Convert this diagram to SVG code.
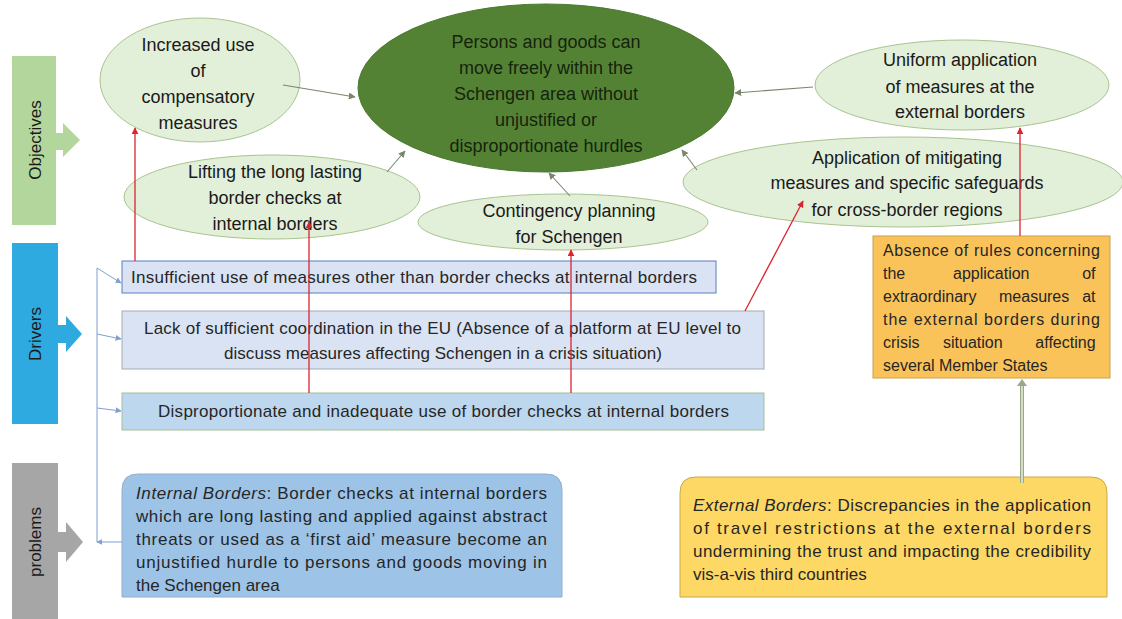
<svg xmlns="http://www.w3.org/2000/svg" width="1122" height="619" viewBox="0 0 1122 619">
<defs>
<style>
text{font-family:"Liberation Sans",Arial,sans-serif;fill:#1a1a1a}
.ell{fill:#e2efd9;stroke:#a9c48f;stroke-width:1}
.et{font-size:18px;text-anchor:middle}
.bt{font-size:16px;fill:#262626}
.pt{font-size:17px;fill:#262626}
.dt{font-size:17px;fill:#262626}
.red{stroke:#d9262f;stroke-width:1.3;fill:none;marker-end:url(#ra)}
.gr{stroke:#78876c;stroke-width:1.1;fill:none;marker-end:url(#ga)}
.bl{stroke:#7f9fcf;stroke-width:1;fill:none}
.bla{stroke:#7f9fcf;stroke-width:1;fill:none;marker-end:url(#ba)}
</style>
<marker id="ra" viewBox="0 0 10 10" refX="9" refY="5" markerWidth="7" markerHeight="7" orient="auto" markerUnits="userSpaceOnUse"><path d="M0,0 L10,5 L0,10 z" fill="#d9262f"/></marker>
<marker id="ga" viewBox="0 0 10 10" refX="9" refY="5" markerWidth="7" markerHeight="7" orient="auto" markerUnits="userSpaceOnUse"><path d="M0,0 L10,5 L0,10 z" fill="#78876c"/></marker>
<marker id="ba" viewBox="0 0 10 10" refX="9" refY="5" markerWidth="6" markerHeight="6" orient="auto" markerUnits="userSpaceOnUse"><path d="M0,0 L10,5 L0,10 z" fill="#7f9fcf"/></marker>
</defs>
<rect width="1122" height="619" fill="#ffffff"/>

<g id="label-objectives">
<rect x="12" y="56" width="44" height="169" fill="#b3d69c"/>
<polygon points="56,133 63,133 63,123 80,140 63,157 63,150 56,150" fill="#b3d69c"/>
<text transform="translate(41,140) rotate(-90)" text-anchor="middle" font-size="17" fill="#333">Objectives</text>
</g>
<g id="label-drivers">
<rect x="12" y="243" width="46" height="181" fill="#2eaae0"/>
<polygon points="58,325 66,325 66,316 82,334 66,352 66,343 58,343" fill="#2eaae0"/>
<text transform="translate(41,334) rotate(-90)" text-anchor="middle" font-size="17" fill="#1f3864">Drivers</text>
</g>
<g id="label-problems">
<rect x="12" y="463" width="46" height="156" fill="#a6a6a6"/>
<polygon points="58,532 66,532 66,522 83,542 66,562 66,552 58,552" fill="#a6a6a6"/>
<text transform="translate(41,542) rotate(-90)" text-anchor="middle" font-size="17" fill="#262626">problems</text>
</g>

<g id="node-central">
<ellipse cx="546" cy="88" rx="188" ry="84" fill="#548235" stroke="#4a7a2e"/>
<text class="et" style="fill:#14240c"><tspan x="546" y="48">Persons and goods can</tspan><tspan x="546" y="74">move freely within the</tspan><tspan x="546" y="100">Schengen area without</tspan><tspan x="546" y="126">unjustified or</tspan><tspan x="546" y="152">disproportionate hurdles</tspan></text>
</g>
<g id="node-increased">
<ellipse class="ell" cx="200" cy="80" rx="100" ry="62"/>
<text class="et"><tspan x="198" y="51">Increased use</tspan><tspan x="198" y="77">of</tspan><tspan x="198" y="103">compensatory</tspan><tspan x="198" y="129">measures</tspan></text>
</g>
<g id="node-lifting">
<ellipse class="ell" cx="272" cy="197" rx="148" ry="42"/>
<text class="et"><tspan x="275" y="178">Lifting the long lasting</tspan><tspan x="275" y="204">border checks at</tspan><tspan x="275" y="230">internal borders</tspan></text>
</g>
<g id="node-contingency">
<ellipse class="ell" cx="563" cy="222" rx="145" ry="28"/>
<text class="et"><tspan x="569" y="217">Contingency planning</tspan><tspan x="569" y="243">for Schengen</tspan></text>
</g>
<g id="node-uniform">
<ellipse class="ell" cx="962" cy="85" rx="147" ry="45"/>
<text class="et"><tspan x="960" y="66">Uniform application</tspan><tspan x="960" y="93">of measures at the</tspan><tspan x="960" y="118">external borders</tspan></text>
</g>
<g id="node-application">
<ellipse class="ell" cx="903" cy="182" rx="220" ry="45"/>
<text class="et"><tspan x="907" y="164">Application of mitigating</tspan><tspan x="907" y="189">measures and specific safeguards</tspan><tspan x="907" y="216">for cross-border regions</tspan></text>
</g>

<g id="node-driver1">
<rect x="122" y="261" width="594" height="32" fill="#dae3f3" stroke="#5b7fbf"/>
<text class="dt" x="131" y="283" textLength="566" lengthAdjust="spacing">Insufficient use of measures other than border checks at internal borders</text>
</g>
<g id="node-driver2">
<rect x="122" y="311" width="642" height="58" fill="#dae3f3" stroke="#a3abb3"/>
<text class="dt"><tspan x="144" y="334" textLength="597" lengthAdjust="spacing">Lack of sufficient coordination in the EU (Absence of a platform at EU level to</tspan><tspan x="224" y="359" textLength="438" lengthAdjust="spacing">discuss measures affecting Schengen in a crisis situation)</tspan></text>
</g>
<g id="node-driver3">
<rect x="122" y="393" width="642" height="37" fill="#bdd7ee" stroke="#a3bf97"/>
<text class="dt" x="158" y="417" textLength="571" lengthAdjust="spacing">Disproportionate and inadequate use of border checks at internal borders</text>
</g>
<g id="node-driver-external">
<rect x="873" y="236" width="237" height="142" fill="#fac35a" stroke="#c9a04e"/>
<text class="bt">
<tspan x="883" y="256" textLength="217" lengthAdjust="spacing">Absence of rules concerning</tspan>
<tspan x="883" y="279">the</tspan><tspan x="953" y="279">application</tspan><tspan x="1100" y="279" text-anchor="end">of</tspan>
<tspan x="883" y="302">extraordinary</tspan><tspan x="999" y="302">measures</tspan><tspan x="1100" y="302" text-anchor="end">at</tspan>
<tspan x="883" y="325" textLength="217" lengthAdjust="spacing">the external borders during</tspan>
<tspan x="883" y="348">crisis</tspan><tspan x="943" y="348">situation</tspan><tspan x="1100" y="348" text-anchor="end">affecting</tspan>
<tspan x="883" y="371">several Member States</tspan>
</text>
</g>

<g id="node-problem-internal">
<path d="M122,597 L122,490 Q122,474 138,474 L546,474 Q562,474 562,490 L562,597 Z" fill="#9dc3e6" stroke="#8fb0d0"/>
<text class="pt">
<tspan x="136" y="499" textLength="411" lengthAdjust="spacing"><tspan font-style="italic">Internal Borders</tspan>: Border checks at internal borders</tspan>
<tspan x="136" y="522" textLength="411" lengthAdjust="spacing">which are long lasting and applied against abstract</tspan>
<tspan x="136" y="545" textLength="411" lengthAdjust="spacing">threats or used as a ‘first aid’ measure become an</tspan>
<tspan x="136" y="568" textLength="411" lengthAdjust="spacing">unjustified hurdle to persons and goods moving in</tspan>
<tspan x="136" y="591">the Schengen area</tspan>
</text>
</g>
<g id="node-problem-external">
<path d="M680,597 L680,493 Q680,477 696,477 L1091,477 Q1107,477 1107,493 L1107,597 Z" fill="#fdd865" stroke="#c8a947"/>
<text class="pt">
<tspan x="693" y="511" textLength="398" lengthAdjust="spacing"><tspan font-style="italic">External Borders</tspan>: Discrepancies in the application</tspan>
<tspan x="693" y="534" textLength="398" lengthAdjust="spacing">of travel restrictions at the external borders</tspan>
<tspan x="693" y="557" textLength="398" lengthAdjust="spacing">undermining the trust and impacting the credibility</tspan>
<tspan x="693" y="580">vis-a-vis third countries</tspan>
</text>
</g>

<g id="connectors">
<path class="gr" d="M283,85 L355,97"/>
<path class="gr" d="M387,172 L405,151"/>
<path class="gr" d="M570,196 L549,173"/>
<path class="gr" d="M697,170 L682,150"/>
<path class="gr" d="M813,87 L735,93"/>
<path class="red" d="M135,261 L135,128"/>
<path class="red" d="M309,393 L309,222"/>
<path class="red" d="M571,393 L571,250"/>
<path class="red" d="M745,311 L803,201"/>
<path class="red" d="M1020,236 L1020,128"/>
<line x1="1022" y1="483" x2="1022" y2="384" stroke="#9aa88a" stroke-width="4"/>
<line x1="1022" y1="483" x2="1022" y2="384" stroke="#e8eedd" stroke-width="1.5"/>
<path d="M1017,386 L1022,379 L1027,386 Z" fill="#9aa88a"/>
<path class="bl" d="M97,268 L97,542"/>
<path class="bla" d="M97,268 L121,283"/>
<path class="bla" d="M97,334 L121,339"/>
<path class="bla" d="M97,408 L121,411"/>
<path class="bla" d="M122,542 L97,542"/>
</g>
</svg>
